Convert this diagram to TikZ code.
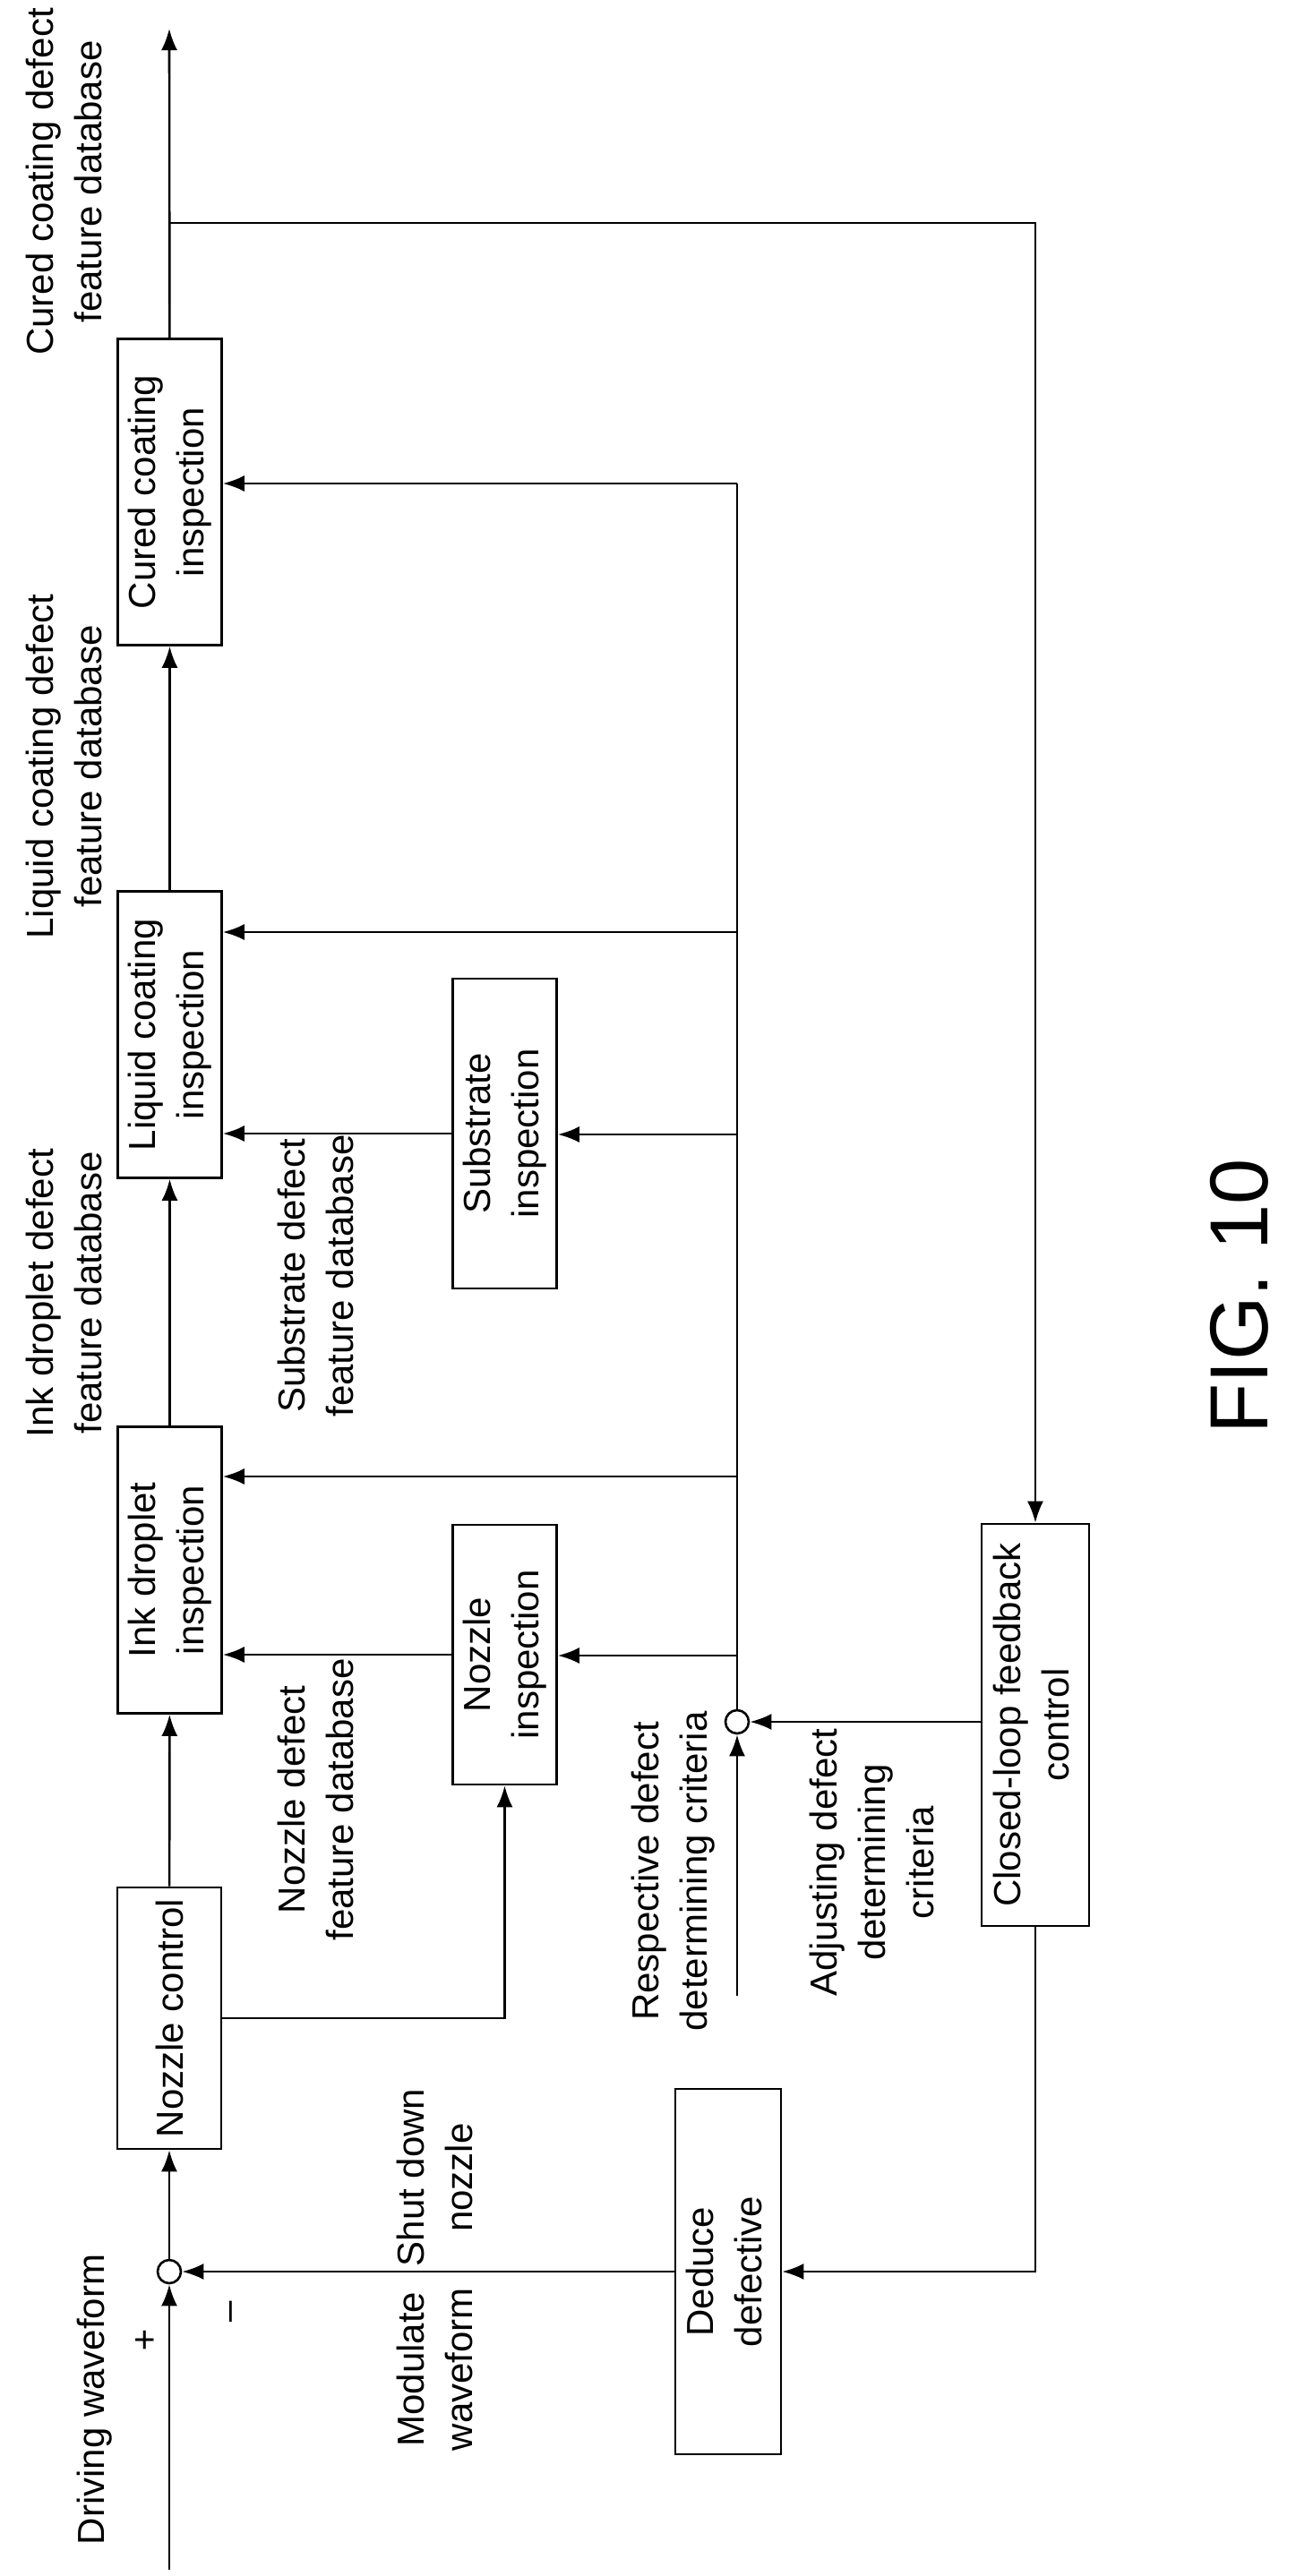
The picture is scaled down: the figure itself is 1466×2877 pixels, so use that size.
\documentclass[tikz,border=0pt]{standalone}
\usepackage{fontspec}
\setmainfont{Liberation Sans}
\usetikzlibrary{arrows.meta}
\begin{document}
\begin{tikzpicture}[x=0.5pt,y=-0.5pt,
  every node/.style={font=\fontsize{21}{27}\selectfont},
  box/.style={draw,line width=1.3pt,inner sep=0pt,minimum width=58pt},
  lbl/.style={rotate=90,align=center},
  arr/.style={line width=1.3pt,-{Latex[length=12pt,width=9pt]}},
  ln/.style={line width=1.3pt},
  sum/.style={draw,line width=1.3pt,circle,minimum size=13pt,inner sep=0pt}]
\useasboundingbox (0,0) rectangle (1466,2877);
% boxes
\node[box,minimum height=146pt] (nc) at (189,2254) {\rotatebox{90}{Nozzle control}};
\node[box,minimum height=160pt] (ink) at (189.5,1753.5) {\rotatebox{90}{\begin{tabular}{@{}c@{}}Ink droplet\\inspection\end{tabular}}};
\node[box,minimum height=160pt] (liq) at (189.5,1155.5) {\rotatebox{90}{\begin{tabular}{@{}c@{}}Liquid coating\\inspection\end{tabular}}};
\node[box,minimum height=171pt] (cur) at (189.5,549.5) {\rotatebox{90}{\begin{tabular}{@{}c@{}}Cured coating\\inspection\end{tabular}}};
\node[box,minimum height=145pt] (ni) at (563.5,1848) {\rotatebox{90}{\begin{tabular}{@{}c@{}}Nozzle\\inspection\end{tabular}}};
\node[box,minimum height=173pt] (si) at (563.5,1266) {\rotatebox{90}{\begin{tabular}{@{}c@{}}Substrate\\inspection\end{tabular}}};
\node[box,minimum height=224.5pt,minimum width=60pt] (cl) at (1156,1926.5) {\rotatebox{90}{\begin{tabular}{@{}c@{}}Closed-loop feedback\\control\end{tabular}}};
\node[box,minimum height=204pt,minimum width=59pt] (dd) at (813,2537) {\rotatebox{90}{\begin{tabular}{@{}c@{}}Deduce\\defective\end{tabular}}};
\node[sum] (c1) at (189,2537) {};
\node[sum] (c2) at (823,1923) {};
% coordinates
\coordinate (dw) at (189,2870);
\coordinate (top) at (189,32);
\coordinate (j1) at (189,249);
\coordinate (rc) at (823,2229);
\coordinate (bc) at (823,540);
\coordinate (bl) at (823,1041);
\coordinate (bs) at (823,1267);
\coordinate (bi) at (823,1649);
\coordinate (bn) at (823,1849);
\coordinate (nr) at (564,2254);
% connectors
\draw[arr] (dw) -- (c1);
\draw[arr] (c1) -- (nc);
\draw[arr] (nc) -- (ink);
\draw[arr] (ink) -- (liq);
\draw[arr] (liq) -- (cur);
\draw[arr] (cur) -- (top);
\draw[arr] (j1) -| (cl.north);
\draw[arr] (cl.south) |- (dd.east);
\draw[arr] (dd.west) -- (c1);
\draw[arr] (cl.west |- c2) -- (c2);
\draw[arr] (rc) -- (c2);
\draw[ln] (c2) -- (bc);
\draw[arr] (bc) -- (cur.east |- bc);
\draw[arr] (bl) -- (liq.east |- bl);
\draw[arr] (bs) -- (si.east |- bs);
\draw[arr] (bi) -- (ink.east |- bi);
\draw[arr] (bn) -- (ni.east |- bn);
\draw[arr] (si.west) -- (liq.east |- si.west);
\draw[arr] (ni.west) -- (ink.east |- ni.west);
\draw[arr] (nc.east |- nr) -| (ni.south);
% labels
\node[lbl] (t1) at (71,203) {Cured coating defect\\feature database};
\node[lbl] (t2) at (71,856) {Liquid coating defect\\feature database};
\node[lbl] (t3) at (71,1444) {Ink droplet defect\\feature database};
\node[lbl] (t4) at (352,1425) {Substrate defect\\feature database};
\node[lbl] (t5) at (352,2010) {Nozzle defect\\feature database};
\node[lbl] (t6) at (752,2090) {Respective defect\\determining criteria};
\node[lbl] (t7) at (973,2080) {Adjusting defect\\determining\\criteria};
\node[lbl] (t8) at (485,2432) {Shut down\\nozzle};
\node[lbl] (t9) at (485,2646) {Modulate\\waveform};
\node[lbl] (t10) at (106,2680) {Driving waveform};
\node (tp) at (162,2615) {+};
\node[rotate=90] (tm) at (262,2582) {--};
\node[rotate=90,font=\fontsize{46}{50}\selectfont] (fig) at (1384,1448) {FIG. 10};
\end{tikzpicture}
\end{document}
